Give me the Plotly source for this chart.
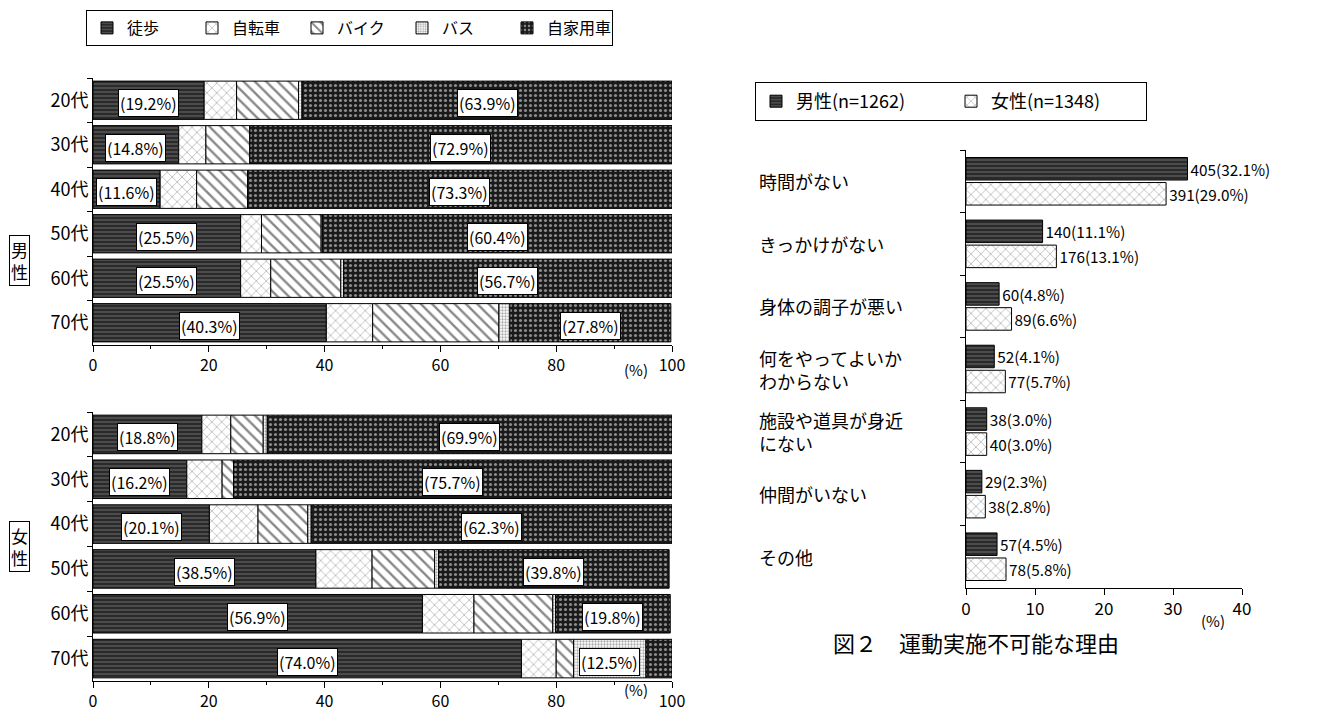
import plotly.graph_objects as go

# --- left: commuting mode by age (stacked %, men / women) ---
ages = ["20代", "30代", "40代", "50代", "60代", "70代"]
modes = ["徒歩", "自転車", "バイク", "バス", "自家用車"]

male_walk = [19.2, 14.8, 11.6, 25.5, 25.5, 40.3]
male_bicycle = [5.6, 4.7, 6.3, 3.6, 5.2, 8.0]
male_motorbike = [10.7, 7.6, 8.8, 10.3, 12.1, 21.8]
male_bus = [0.6, 0.0, 0.0, 0.2, 0.5, 1.9]
male_car = [63.9, 72.9, 73.3, 60.4, 56.7, 27.8]

female_walk = [18.8, 16.2, 20.1, 38.5, 56.9, 74.0]
female_bicycle = [5.0, 6.1, 8.4, 9.7, 8.9, 6.0]
female_motorbike = [5.6, 2.0, 8.6, 10.8, 13.6, 3.0]
female_bus = [0.7, 0.0, 0.6, 0.7, 0.5, 12.5]
female_car = [69.9, 75.7, 62.3, 39.8, 19.8, 4.5]

# --- right: reasons for not exercising ---
reasons = ["時間がない", "きっかけがない", "身体の調子が悪い",
           "何をやってよいか<br>わからない", "施設や道具が身近<br>にない",
           "仲間がいない", "その他"]
male_n = [405, 140, 60, 52, 38, 29, 57]
male_pct = [32.1, 11.1, 4.8, 4.1, 3.0, 2.3, 4.5]
female_n = [391, 176, 89, 77, 40, 38, 78]
female_pct = [29.0, 13.1, 6.6, 5.7, 3.0, 2.8, 5.8]

FONT = "Noto Sans CJK JP, Noto Sans, sans-serif"
# the page body has an 8px margin, so the figure is shrunk to fit the window
# and every screen position below is shifted by that offset
PAGE_OFF = 8
W, H = 1324 - PAGE_OFF, 713 - PAGE_OFF

# hatch styles meant to look like the old dot-matrix fills
PATTERNS = {
    "徒歩": dict(shape="-", fgcolor="#9a9a9a", bgcolor="#2a2a2a", size=4, solidity=0.3),
    "自転車": dict(shape="x", fgcolor="#222222", bgcolor="#ffffff", size=7, solidity=0.15),
    "バイク": dict(shape="\\", fgcolor="#111111", bgcolor="#ffffff", size=8, solidity=0.3),
    "バス": dict(shape=".", fgcolor="#555555", bgcolor="#ffffff", size=3, solidity=0.45),
    "自家用車": dict(shape=".", fgcolor="#ffffff", bgcolor="#1a1a1a", size=5, solidity=0.3),
}


def px_x(p):
    return (p - PAGE_OFF) / W


def px_y(p):
    return 1 - (p - PAGE_OFF) / H


fig = go.Figure()
annotations = []


def add_stack(series, xa, ya, showlegend):
    base = [0.0] * len(ages)
    for mode, vals in zip(modes, series):
        fig.add_trace(go.Bar(
            y=ages, x=vals, base=list(base), orientation="h",
            width=0.86, offset=-0.43,
            name=mode, legendgroup=mode, showlegend=showlegend,
            marker=dict(color=PATTERNS[mode]["bgcolor"], pattern=PATTERNS[mode],
                        line=dict(color="#000000", width=1)),
            xaxis=xa, yaxis=ya, hoverinfo="skip",
        ))
        # boxed percentage labels (walk, car, big bus share)
        for age, b, v in zip(ages, base, vals):
            if mode == "徒歩" or (mode == "自家用車" and v >= 10) or (mode == "バス" and v >= 5):
                annotations.append(dict(
                    x=b + v / 2, y=age, xref=xa, yref=ya, yshift=-3,
                    text=f"({v:.1f}%)", showarrow=False,
                    font=dict(size=16, color="#000000", family=FONT),
                    bgcolor="#ffffff", bordercolor="#000000", borderwidth=1, borderpad=1,
                ))
        base = [b + v for b, v in zip(base, vals)]


add_stack([male_walk, male_bicycle, male_motorbike, male_bus, male_car], "x", "y", True)
add_stack([female_walk, female_bicycle, female_motorbike, female_bus, female_car], "x2", "y2", False)

fig.add_trace(go.Bar(
    y=reasons, x=male_pct, orientation="h", width=0.36, offset=-0.38,
    name="男性(n=1262)", legend="legend2",
    text=[f"{n}({p:.1f}%)" for n, p in zip(male_n, male_pct)],
    textposition="outside", cliponaxis=False,
    textfont=dict(size=17, color="#000000", family=FONT),
    marker=dict(color="#2a2a2a", pattern=PATTERNS["徒歩"], line=dict(color="#000000", width=1)),
    xaxis="x3", yaxis="y3", hoverinfo="skip",
))
fig.add_trace(go.Bar(
    y=reasons, x=female_pct, orientation="h", width=0.36, offset=0.02,
    name="女性(n=1348)", legend="legend2",
    text=[f"{n}({p:.1f}%)" for n, p in zip(female_n, female_pct)],
    textposition="outside", cliponaxis=False,
    textfont=dict(size=17, color="#000000", family=FONT),
    marker=dict(color="#ffffff", pattern=PATTERNS["自転車"], line=dict(color="#000000", width=1)),
    xaxis="x3", yaxis="y3", hoverinfo="skip",
))

left_x = dict(
    domain=[px_x(93), px_x(672)], range=[0, 100], automargin=False,
    tickvals=[0, 20, 40, 60, 80, 100], ticktext=["0", "20", "40", "60", "80", "100"],
    ticks="outside", ticklen=6, tickcolor="#000000",
    minor=dict(dtick=10, ticks="outside", ticklen=3, tickcolor="#000000"),
    showline=True, linecolor="#000000", linewidth=1,
    showgrid=False, zeroline=False,
    tickfont=dict(size=16, color="#000000", family=FONT),
)
left_y = dict(
    autorange="reversed", tickson="boundaries", ticks="outside", ticklen=5,
    tickcolor="#000000", showline=True, linecolor="#000000", linewidth=1,
    showgrid=False, automargin=False,
    tickfont=dict(size=18, color="#000000", family=FONT),
)

fig.update_layout(
    width=W, height=H,
    margin=dict(l=0, r=0, t=0, b=0, autoexpand=False),
    paper_bgcolor="#ffffff", plot_bgcolor="#ffffff",
    barmode="overlay",
    font=dict(family=FONT, color="#000000"),
    xaxis=dict(left_x, anchor="y"),
    yaxis=dict(left_y, domain=[px_y(345), px_y(78)], anchor="x"),
    xaxis2=dict(left_x, anchor="y2"),
    yaxis2=dict(left_y, domain=[px_y(681), px_y(412)], anchor="x2"),
    xaxis3=dict(
        domain=[px_x(966), px_x(1242)], range=[0, 40], anchor="y3", automargin=False,
        tickvals=[0, 10, 20, 30, 40], ticks="outside", ticklen=6, tickcolor="#000000",
        showline=True, linecolor="#000000", linewidth=1, showgrid=False, zeroline=False,
        tickfont=dict(size=17, color="#000000", family=FONT),
    ),
    yaxis3=dict(
        domain=[px_y(588), px_y(150)], anchor="x3", autorange="reversed", automargin=False,
        tickson="boundaries", ticks="outside", ticklen=5, tickcolor="#000000",
        showline=True, linecolor="#000000", linewidth=1, showgrid=False,
        showticklabels=False,
    ),
    legend=dict(
        orientation="h", x=px_x(86), y=px_y(10), xanchor="left", yanchor="top",
        bordercolor="#000000", borderwidth=1, bgcolor="#ffffff",
        entrywidth=60, entrywidthmode="pixels", traceorder="normal",
        font=dict(size=16, color="#000000", family=FONT),
    ),
    legend2=dict(
        orientation="h", x=px_x(755), y=px_y(82), xanchor="left", yanchor="top",
        bordercolor="#000000", borderwidth=1, bgcolor="#ffffff",
        entrywidth=150, entrywidthmode="pixels",
        font=dict(size=18, color="#000000", family=FONT),
    ),
)

# left-aligned reason labels
for r in reasons:
    annotations.append(dict(
        x=px_x(757), xref="paper", y=r, yref="y3", xanchor="left", align="left",
        text=r, showarrow=False, font=dict(size=18, color="#000000", family=FONT),
    ))

# sex labels, unit markers, caption
annotations += [
    dict(x=px_x(19), y=px_y(235), xref="paper", yref="paper", text="男<br>性",
         xanchor="center", showarrow=False, font=dict(size=17, family=FONT, color="#000000"),
         bordercolor="#000000", borderwidth=1, borderpad=1),
    dict(x=px_x(19), y=px_y(572), xref="paper", yref="paper", text="女<br>性",
         xanchor="center", showarrow=False, font=dict(size=17, family=FONT, color="#000000"),
         bordercolor="#000000", borderwidth=1, borderpad=1),
    dict(x=px_x(636), y=px_y(369), xref="paper", yref="paper", text="(%)",
         xanchor="center", showarrow=False, font=dict(size=15, family=FONT, color="#000000")),
    dict(x=px_x(636), y=px_y(702), xref="paper", yref="paper", text="(%)",
         xanchor="center", showarrow=False, font=dict(size=15, family=FONT, color="#000000")),
    dict(x=px_x(1213), y=px_y(633), xref="paper", yref="paper", text="(%)",
         xanchor="center", showarrow=False, font=dict(size=15, family=FONT, color="#000000")),
    dict(x=px_x(976), y=px_y(660), xref="paper", yref="paper",
         text="図２　運動実施不可能な理由", xanchor="center",
         showarrow=False, font=dict(size=22, family=FONT, color="#000000")),
]
fig.update_layout(annotations=annotations)

fig.write_html("out.html")
